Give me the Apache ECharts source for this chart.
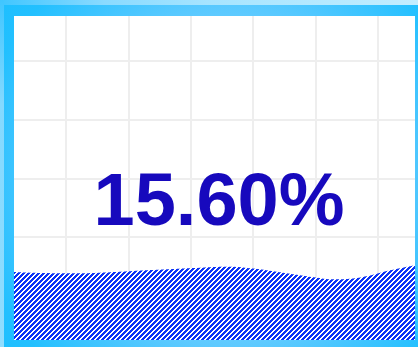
<!DOCTYPE html>
<html>
<head>
<meta charset="utf-8">
<script src="https://cdn.jsdelivr.net/npm/echarts@6/dist/echarts.min.js"></script>
<style>
  html, body { margin: 0; padding: 0; background: #ffffff; }
  #chart { width: 418px; height: 347px; }
</style>
</head>
<body>
<div id="chart"></div>
<script>
// Fill level shown in the big label (percent)
const fillValue = 15.6;

// Liquid surface: horizontal position (% of tank width) and height (same units as fillValue)
const waveX = [0, 13.2, 21.4, 29.7, 38.2, 46.4, 53.1, 58.9, 67.1, 75.6, 79.6, 83.8, 88.2, 92.0, 96.3, 100];
const waveLevel = [15.74, 15.44, 15.58, 15.97, 16.37, 16.74, 16.97, 16.60, 15.58, 14.42, 14.05, 14.19, 14.81, 15.74, 16.60, 17.29];

// Background lattice extent, in cells (a cell is 62.4 x 58.7 px)
const latticeCols = 6.641;
const latticeRows = 5.872;

// Diagonal hatch tile for the liquid
function makeHatch(color) {
  const size = 5;
  const c = document.createElement('canvas');
  c.width = size; c.height = size;
  const ctx = c.getContext('2d');
  ctx.fillStyle = '#ffffff';
  ctx.fillRect(0, 0, size, size);
  ctx.fillStyle = color;
  for (let y = 0; y < size; y++) {
    for (let x = 0; x < size; x++) {
      if ((x + y) % size < 3) ctx.fillRect(x, y, 1, 1);
    }
  }
  return c;
}

const chart = echarts.init(document.getElementById('chart'), null, { renderer: 'canvas' });

const wavePoints = waveX.map((x, i) => [x, waveLevel[i]]);

function lin(x0, y0, x1, y1, stops) {
  return { type: 'linear', x: x0, y: y0, x2: x1, y2: y1, global: true,
    colorStops: stops.map(s => ({ offset: s[0], color: s[1] })) };
}
const bandGradient = {
  type: 'radial', x: 228, y: 180, r: 285, global: true,
  colorStops: [
    { offset: 0, color: '#a4e3ff' },
    { offset: 0.58, color: '#5ecaff' },
    { offset: 0.72, color: '#42c5ff' },
    { offset: 0.9, color: '#22c0ff' },
    { offset: 1, color: '#1ebfff' }
  ]
};

const latticeLine = { show: true, lineStyle: { color: '#eeeeee', width: 2 } };

chart.setOption({
  backgroundColor: '#ffffff',
  animation: false,
  grid: [
    { left: 3.6, top: 2.3, right: 0, bottom: 0 },
    { left: 14, top: 16, right: 3, bottom: 7 }
  ],
  xAxis: [
    { gridIndex: 0, type: 'value', min: 0, max: latticeCols, interval: 1,
      axisLine: { show: false }, axisTick: { show: false }, axisLabel: { show: false },
      splitLine: latticeLine },
    { gridIndex: 1, type: 'value', min: 0, max: 100, show: false, splitLine: { show: false } }
  ],
  yAxis: [
    { gridIndex: 0, type: 'value', inverse: true, min: 0, max: latticeRows, interval: 1,
      axisLine: { show: false }, axisTick: { show: false }, axisLabel: { show: false },
      splitLine: latticeLine },
    { gridIndex: 1, type: 'value', min: 0, max: 75, show: false, splitLine: { show: false } }
  ],
  series: [
    {
      type: 'line',
      xAxisIndex: 1, yAxisIndex: 1,
      data: wavePoints,
      smooth: 0.5,
      showSymbol: false,
      lineStyle: { width: 0 },
      areaStyle: { origin: 'start', opacity: 1,
        color: { image: makeHatch('#0c33f6'), repeat: 'repeat' } },
      z: 3
    }
  ],
  graphic: [
    // outer rim
    { type: 'rect', z: 100, shape: { x: 0, y: 0, width: 418, height: 5 },
      style: { fill: lin(0, 0, 418, 0, [[0, '#40c6ff'], [0.25, '#8adaff'], [0.5, '#a6e4ff'], [1, '#c2edff']]) } },
    { type: 'rect', z: 100, shape: { x: 0, y: 0, width: 4, height: 347 },
      style: { fill: lin(0, 0, 0, 347, [[0, '#40c6ff'], [0.3, '#84d9ff'], [1, '#90ddff']]) } },
    // inner band
    { type: 'rect', z: 101, shape: { x: 4, y: 5, width: 414, height: 11 }, style: { fill: bandGradient } },
    { type: 'rect', z: 101, shape: { x: 4, y: 5, width: 10, height: 342 }, style: { fill: bandGradient } },
    { type: 'rect', z: 101, shape: { x: 415, y: 5, width: 3, height: 342 }, style: { fill: bandGradient } },
    { type: 'rect', z: 101, shape: { x: 4, y: 340, width: 414, height: 7 }, style: { fill: bandGradient } },
    // value label
    { type: 'text', z: 120, x: 219, y: 205,
      style: {
        text: fillValue.toFixed(2) + '%',
        font: 'bold 74px "Liberation Sans", Arial, sans-serif',
        fill: '#1709bd',
        align: 'center', verticalAlign: 'middle',
        textAlign: 'center', textVerticalAlign: 'middle'
      } }
  ]
});
</script>
</body>
</html>
